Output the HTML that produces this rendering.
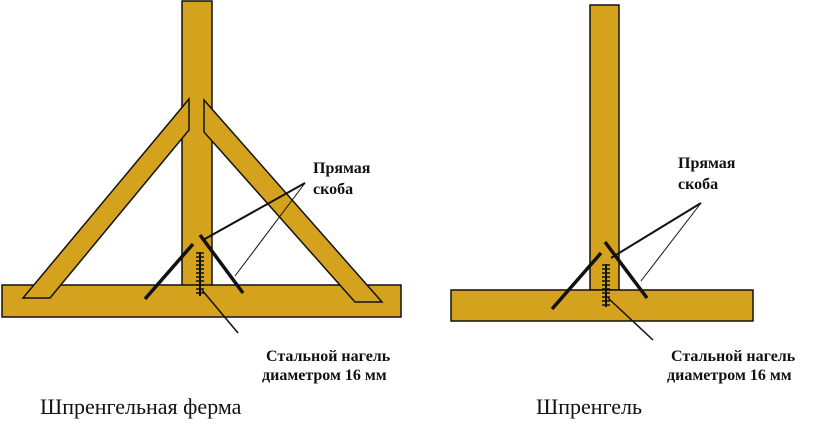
<!DOCTYPE html>
<html><head><meta charset="utf-8"><style>
body{margin:0;background:#fff}
svg{display:block}
text{font-family:"Liberation Serif","DejaVu Serif",serif;fill:#111}
.l{font-weight:bold;font-size:16px}
.t{font-size:22px}
</style></head><body>
<svg width="830" height="426" viewBox="0 0 830 426">
<g fill="#d4a21c" stroke="#111" stroke-width="1.5">
<rect x="182" y="1" width="30" height="285"/>
<rect x="2" y="285" width="399" height="32"/>
<polygon points="189,99 189,130 50,298 23,298"/>
<polygon points="204,100 382,302 355,302 204,132"/>
<rect x="590" y="5" width="29" height="285"/>
<rect x="451" y="290" width="302" height="31"/>
</g>
<g stroke="#111" fill="none">
<line x1="145" y1="299" x2="193" y2="244" stroke-width="3.5"/>
<line x1="200" y1="235" x2="243" y2="293" stroke-width="3.5"/>
<path d="M196 253 h8 M196 257 h8 M196 261 h8 M196 265 h8 M196 269 h8 M196 273 h8 M196 277 h8 M196 281 h8 M196 285 h8 M196 289 h8 M196 293 h8" stroke-width="1.5"/>
<line x1="200" y1="252" x2="200" y2="296" stroke-width="2"/>
<line x1="305" y1="183" x2="203" y2="240" stroke-width="2"/>
<line x1="305" y1="183" x2="235" y2="276" stroke-width="1"/>
<line x1="202" y1="290" x2="238" y2="333" stroke-width="1.5"/>
<line x1="552" y1="309" x2="601" y2="253" stroke-width="3.5"/>
<line x1="605" y1="242" x2="647" y2="298" stroke-width="3.5"/>
<path d="M602 265 h8 M602 269 h8 M602 273 h8 M602 277 h8 M602 281 h8 M602 285 h8 M602 289 h8 M602 293 h8 M602 297 h8 M602 301 h8 M602 305 h8" stroke-width="1.5"/>
<line x1="606" y1="264" x2="606" y2="307" stroke-width="2"/>
<line x1="701" y1="203" x2="611" y2="258" stroke-width="2"/>
<line x1="701" y1="203" x2="641" y2="281" stroke-width="1"/>
<line x1="608" y1="298" x2="653" y2="340" stroke-width="1.5"/>
</g>
<text class="l" x="313" y="173">Прямая</text>
<text class="l" x="313" y="194">скоба</text>
<text class="l" x="678" y="168">Прямая</text>
<text class="l" x="678" y="189">скоба</text>
<text class="l" x="266" y="361">Стальной нагель</text>
<text class="l" x="262" y="380">диаметром 16 мм</text>
<text class="l" x="671" y="361">Стальной нагель</text>
<text class="l" x="667" y="380">диаметром 16 мм</text>
<text class="t" x="40" y="414">Шпренгельная ферма</text>
<text class="t" x="536" y="414">Шпренгель</text>
</svg>
</body></html>
